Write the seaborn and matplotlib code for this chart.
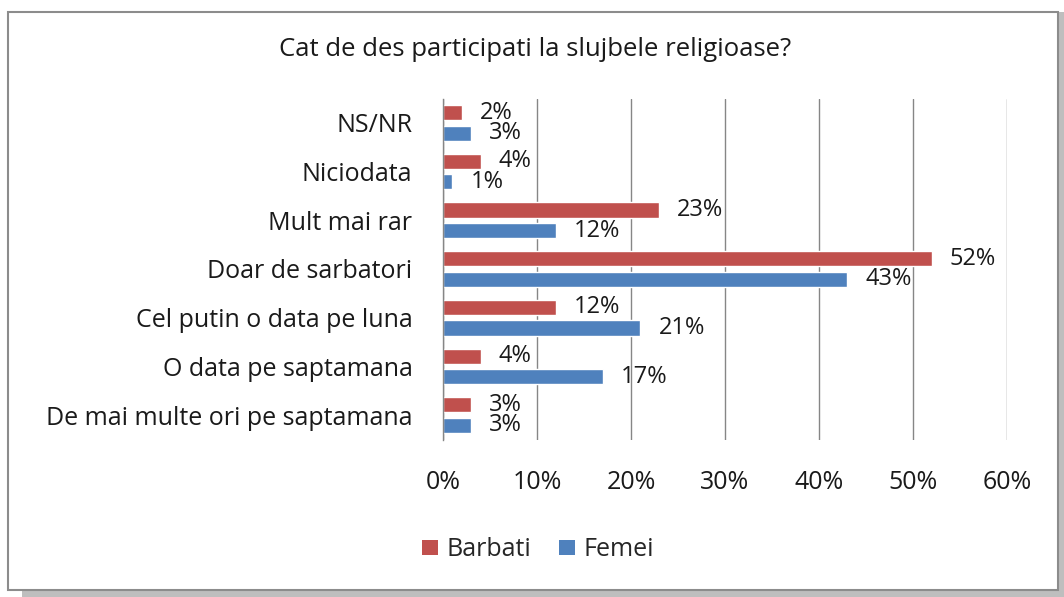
import matplotlib
matplotlib.use("Agg")
import matplotlib.pyplot as plt
from matplotlib.patches import Rectangle, Patch
from matplotlib import font_manager
import seaborn as sns
import pandas as pd

categories = [
    "NS/NR",
    "Niciodata",
    "Mult mai rar",
    "Doar de sarbatori",
    "Cel putin o data pe luna",
    "O data pe saptamana",
    "De mai multe ori pe saptamana",
]
barbati = [2, 4, 23, 52, 12, 4, 3]
femei = [3, 1, 12, 43, 21, 17, 3]
series_names = ["Barbati", "Femei"]
x_ticks = [0, 10, 20, 30, 40, 50, 60]
x_tick_labels = ["0%", "10%", "20%", "30%", "40%", "50%", "60%"]
title = "Cat de des participati la slujbele religioase?"

colors = {"Barbati": "#C0504D", "Femei": "#4F81BD"}

df = pd.DataFrame({
    "categorie": categories * 2,
    "gen": [series_names[0]] * len(categories) + [series_names[1]] * len(categories),
    "procent": barbati + femei,
})

sns.set_theme(style="white")
names = {f.name for f in font_manager.fontManager.ttflist}
main_font = "Open Sans" if "Open Sans" in names else "DejaVu Sans"
title_font = "Liberation Sans Narrow" if "Liberation Sans Narrow" in names else main_font
plt.rcParams["font.family"] = [main_font, "DejaVu Sans"]

fig = plt.figure(figsize=(10.64, 5.97), dpi=100)

# chart frame with a soft drop shadow
W, H = 1064, 597
fig.patches.append(Rectangle((22 / W, 0), (W - 22) / W, (597 - 12) / H,
                             transform=fig.transFigure, facecolor="#BEBEBE",
                             edgecolor="none", zorder=-3))
fig.patches.append(Rectangle((8 / W, 1 - 590 / H), (1058 - 8) / W, (590 - 12) / H,
                             transform=fig.transFigure, facecolor="white",
                             edgecolor="#8C8C8C", linewidth=1.5, zorder=-2))

ax = fig.add_axes([443 / W, 1 - 439.5 / H, (1007 - 443) / W, (439.5 - 98.5) / H])
ax.set_facecolor("none")

sns.barplot(
    data=df, y="categorie", x="procent", hue="gen",
    order=categories, hue_order=series_names,
    palette=colors, orient="h", width=0.84, gap=0.26,
    saturation=1, ax=ax, legend=False, errorbar=None,
)

for container in ax.containers:
    ax.bar_label(container, labels=[f"{v:.0f}%" for v in container.datavalues],
                 padding=13, fontsize=17, color="#1a1a1a")

ax.set_xlim(0, 60)
ax.set_ylim(len(categories) - 0.5, -0.5)
ax.set_xticks(x_ticks)
ax.set_xticklabels(x_tick_labels)
ax.xaxis.grid(True, color="#868686", linewidth=1)
ax.set_axisbelow(True)
ax.set_xlabel("")
ax.set_ylabel("")
for side in ["top", "right", "bottom"]:
    ax.spines[side].set_visible(False)
ax.spines["left"].set_color("#868686")
ax.spines["left"].set_linewidth(1)
ax.tick_params(axis="x", length=0, pad=22, labelsize=18, labelcolor="#1a1a1a")
ax.tick_params(axis="y", length=0, pad=22, labelsize=18, labelcolor="#1a1a1a")

fig.text(535 / W, 1 - 50 / H, title, ha="center", va="center",
         fontsize=18.5, family=[title_font, "DejaVu Sans"], color="#1a1a1a")

handles = [Patch(facecolor=colors[n], edgecolor="none") for n in series_names]
fig.legend(handles, series_names, loc="center", bbox_to_anchor=(538 / W, 1 - 550 / H),
           ncol=2, frameon=False, fontsize=18, handlelength=0.65, handleheight=0.55,
           handletextpad=0.35, columnspacing=1.1)

fig.savefig("out.png", dpi=100)
